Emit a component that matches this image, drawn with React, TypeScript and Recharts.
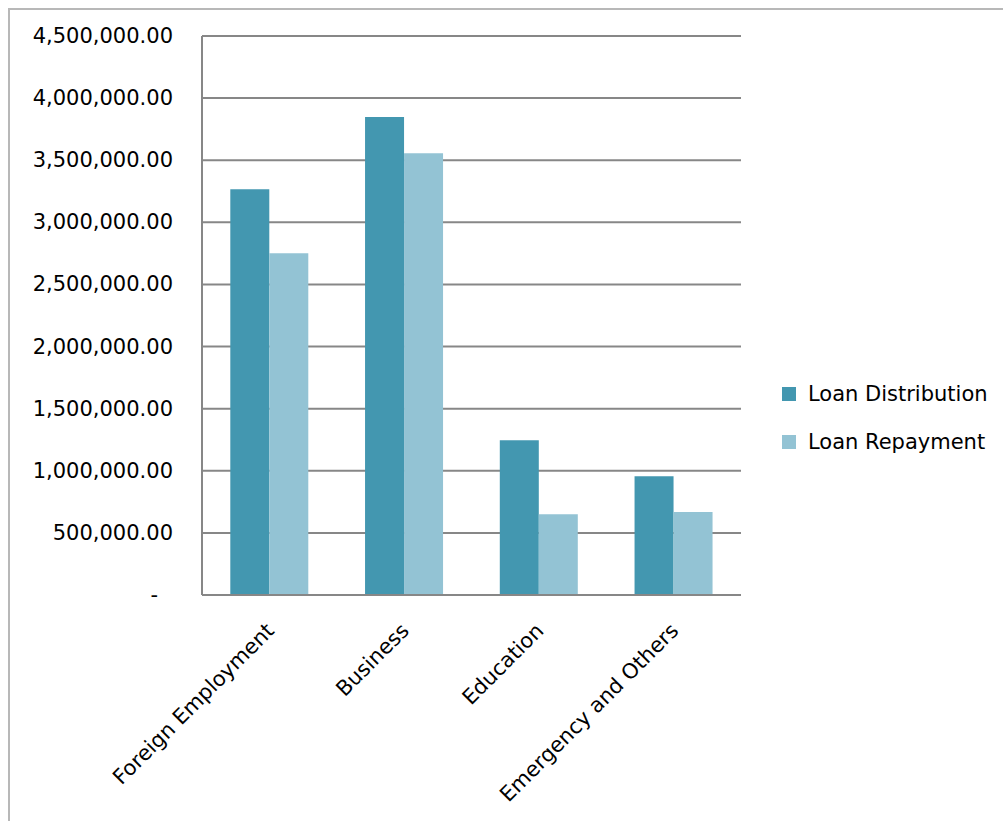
import React from 'react';
import { BarChart, Bar, XAxis, YAxis, CartesianGrid } from 'recharts';

const categories = ['Foreign Employment', 'Business', 'Education', 'Emergency and Others'];
const loanDistribution = [3267000, 3847000, 1245000, 956000];
const loanRepayment = [2752000, 3557000, 650000, 668000];
const yTicks = [0, 500000, 1000000, 1500000, 2000000, 2500000, 3000000, 3500000, 4000000, 4500000];

const seriesInfo = [
  { key: 'distribution', name: 'Loan Distribution', color: '#4397b0' },
  { key: 'repayment', name: 'Loan Repayment', color: '#93c3d4' },
];

const data = categories.map((label, i) => ({
  label,
  distribution: loanDistribution[i],
  repayment: loanRepayment[i],
}));

const FONT = '"DejaVu Sans", sans-serif';
const GRID = '#878787';

const fmt = (v: number) =>
  v.toLocaleString('en-US', { minimumFractionDigits: 2, maximumFractionDigits: 2 });

const YTick = (props: any) => {
  const { x, y, payload } = props;
  const isZero = payload.value === 0;
  return (
    <text
      x={isZero ? x - 15 : x}
      y={y}
      dy={7}
      textAnchor="end"
      fontFamily={FONT}
      fontSize={21}
      fill="#000"
    >
      {isZero ? '-' : fmt(payload.value)}
    </text>
  );
};

const XTick = (props: any) => {
  const { x, y, payload } = props;
  const ax = x + 6;
  const ay = y + 37;
  return (
    <text
      x={ax}
      y={ay}
      textAnchor="end"
      transform={`rotate(-45, ${ax}, ${ay})`}
      fontFamily={FONT}
      fontSize={21}
      fill="#000"
    >
      {payload.value}
    </text>
  );
};

export default function App() {
  return (
    <div style={{ position: 'relative', width: 1003, height: 821, background: '#fff', overflow: 'hidden' }}>
      <style>{'body{margin:0;overflow:hidden;}'}</style>
      <div
        style={{
          position: 'absolute',
          left: 8,
          top: 8,
          width: 1100,
          height: 900,
          borderLeft: '2px solid #b8b8b8',
          borderTop: '2px solid #b8b8b8',
        }}
      />
      <div style={{ position: 'absolute', left: 0, top: 0 }}>
        <BarChart
          width={1003}
          height={821}
          data={data}
          margin={{ top: 36, right: 262, left: 0, bottom: 0 }}
          barGap={0}
          barCategoryGap="21%"
        >
          <CartesianGrid vertical={false} stroke={GRID} strokeWidth={2} />
          <XAxis
            dataKey="label"
            height={226}
            tickSize={0}
            tickMargin={0}
            tickLine={false}
            axisLine={{ stroke: GRID, strokeWidth: 2 }}
            tick={<XTick />}
            interval={0}
          />
          <YAxis
            width={202}
            domain={[0, 4500000]}
            ticks={yTicks}
            tickSize={0}
            tickMargin={29}
            tickLine={false}
            axisLine={{ stroke: GRID, strokeWidth: 2 }}
            tick={<YTick />}
            interval={0}
          />
          {seriesInfo.map((s) => (
            <Bar key={s.key} dataKey={s.key} name={s.name} fill={s.color} isAnimationActive={false} />
          ))}
        </BarChart>
      </div>
      {/* legend drawn as plain html so it doesn't eat plot space */}
      <div style={{ position: 'absolute', left: 782, top: 370, fontFamily: FONT, fontSize: 21, color: '#000' }}>
        {seriesInfo.map((s) => (
          <div key={s.key} style={{ display: 'flex', alignItems: 'center', height: 48 }}>
            <div style={{ width: 14, height: 14, background: s.color, marginRight: 12 }} />
            <span>{s.name}</span>
          </div>
        ))}
      </div>
    </div>
  );
}
